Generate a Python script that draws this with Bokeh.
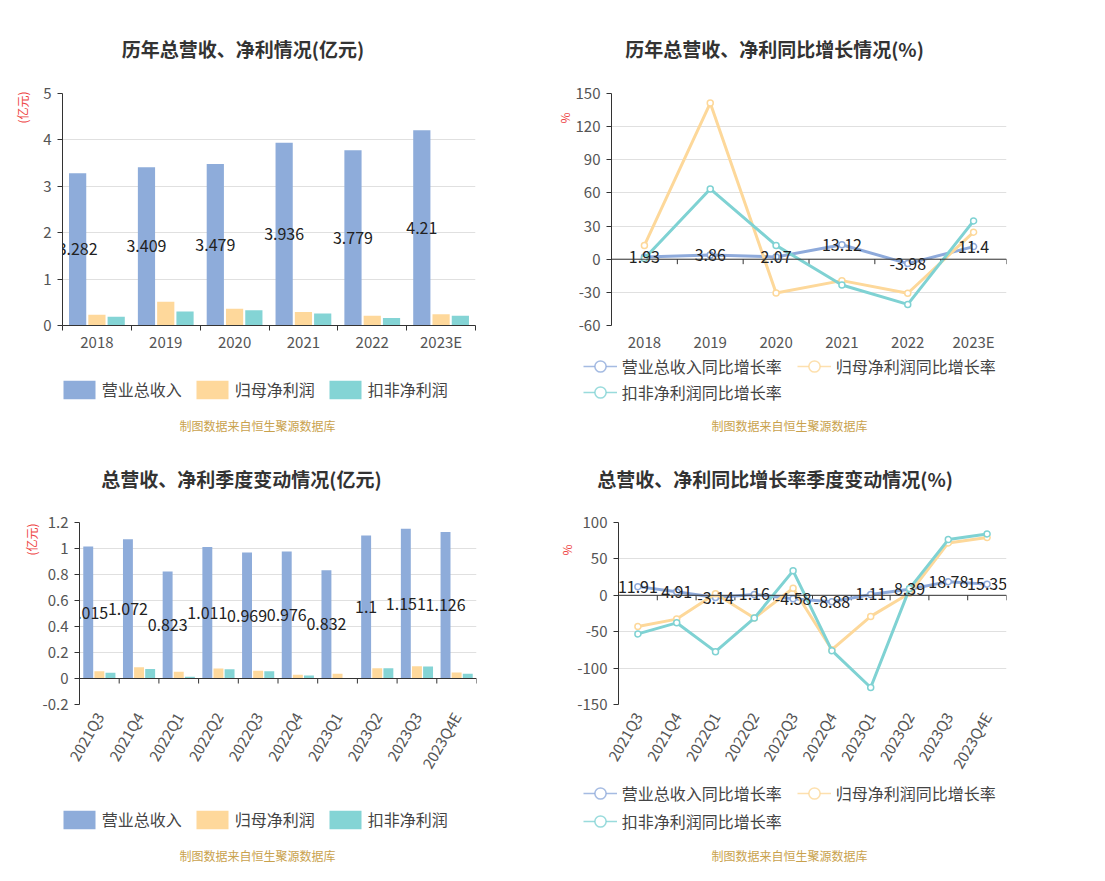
import numpy as np
from bokeh.plotting import figure
from bokeh.models import (Range1d, FixedTicker, Legend, LegendItem, Span, Title, Label,
                          NumeralTickFormatter)
from bokeh.layouts import column, row
from bokeh.embed import file_html
from bokeh.resources import INLINE
from bokeh.core.properties import value

FONT = "Noto Sans CJK SC"

# ---------------- data ----------------
years = ["2018", "2019", "2020", "2021", "2022", "2023E"]
rev_year = [3.282, 3.409, 3.479, 3.936, 3.779, 4.21]
np_year = [0.23, 0.51, 0.36, 0.29, 0.21, 0.24]
kf_year = [0.19, 0.30, 0.33, 0.26, 0.16, 0.21]

rev_year_g = [1.93, 3.86, 2.07, 13.12, -3.98, 11.4]
np_year_g = [12.5, 141.3, -30.5, -19.4, -30.8, 24.5]
kf_year_g = [0.6, 63.6, 12.5, -23.3, -40.9, 34.7]

quarters = ["2021Q3", "2021Q4", "2022Q1", "2022Q2", "2022Q3", "2022Q4",
            "2023Q1", "2023Q2", "2023Q3", "2023Q4E"]
rev_q = [1.015, 1.072, 0.823, 1.011, 0.969, 0.976, 0.832, 1.1, 1.151, 1.126]
np_q = [0.056, 0.087, 0.051, 0.077, 0.059, 0.028, 0.036, 0.079, 0.095, 0.046]
kf_q = [0.044, 0.074, 0.013, 0.072, 0.056, 0.023, 0.003, 0.079, 0.092, 0.036]

rev_q_g = [11.91, 4.91, -3.14, 1.16, -4.58, -8.88, 1.11, 8.39, 18.78, 15.35]
np_q_g = [-42.9, -32.7, 2.0, -31.3, 9.7, -74.7, -29.0, 2.8, 71.9, 79.3]
kf_q_g = [-53.0, -37.8, -77.4, -31.3, 33.6, -76.0, -126.7, 9.2, 76.5, 84.3]

bar_names = ["营业总收入", "归母净利润", "扣非净利润"]
line_names = ["营业总收入同比增长率", "归母净利润同比增长率", "扣非净利润同比增长率"]

titles = ["历年总营收、净利情况(亿元)", "历年总营收、净利同比增长情况(%)",
          "总营收、净利季度变动情况(亿元)", "总营收、净利同比增长率季度变动情况(%)"]
units = ["(亿元)", "%", "(亿元)", "%"]
source_note = "制图数据来自恒生聚源数据库"

BAR_COLORS = ["#8eacda", "#fed89b", "#84d4d5"]
LINE_COLORS = ["#8eaadb", "#fdd89a", "#7fd2d3"]
RED = "#ee4444"
NOTE = "#c9a24d"
W = 552
NAN = [float("nan")]   # legend-only proxy renderers draw nothing


def blank_fig(h):
    p = figure(width=W, height=h, x_range=Range1d(0, 1), y_range=Range1d(0, 1),
               output_backend="svg", toolbar_location=None, tools="",
               x_axis_location=None, y_axis_location=None,
               min_border_left=0, min_border_right=0, min_border_top=0,
               min_border_bottom=0)
    p.outline_line_color = None
    p.grid.visible = False
    return p


def header(h, text, x, y):
    p = blank_fig(h)
    p.add_layout(Label(x=x, y=y, x_units="screen", y_units="screen", text=text,
                       text_font=FONT, text_font_size="19px", text_font_style="bold",
                       text_color="#333333", text_align="center",
                       text_baseline="middle"))
    return p


def add_legend(p, items, loc, gw, gh, standoff, spacing):
    p.add_layout(Legend(items=items, location=loc, orientation="horizontal",
                        glyph_width=gw, glyph_height=gh, label_height=gh,
                        label_standoff=standoff, spacing=spacing, padding=0, margin=0,
                        border_line_color=None, background_fill_alpha=0,
                        label_text_font=FONT, label_text_font_size="16px",
                        label_text_color="#444444"), "center")


def add_note(p, x, y):
    p.add_layout(Label(x=x, y=y, x_units="screen", y_units="screen", text=source_note,
                       text_font=FONT, text_font_size="12px", text_color=NOTE,
                       text_align="center", text_baseline="middle"))


def bar_footer(h, loc, note_xy):
    p = blank_fig(h)
    items = []
    for nm, col in zip(bar_names, BAR_COLORS):
        r = p.vbar(x=NAN, top=NAN, width=0.5, fill_color=col, line_color=None)
        items.append(LegendItem(label=nm, renderers=[r]))
    add_legend(p, items, loc, 40, 23, 3, 10)
    add_note(p, *note_xy)
    return p


def line_footer(h, locs, note_xy):
    p = blank_fig(h)
    items = []
    for nm, col in zip(line_names, LINE_COLORS):
        lr = p.line(x=NAN, y=NAN, line_color=col, line_width=1.5, line_alpha=0.8)
        sr = p.scatter(x=NAN, y=NAN, marker="circle", fill_color="white",
                       line_color=col, line_width=1.5, line_alpha=0.8)
        items.append(LegendItem(label=nm, renderers=[lr, sr]))
    add_legend(p, items[:2], locs[0], 34, 28, 5, 15)
    add_legend(p, items[2:], locs[1], 34, 28, 5, 15)
    add_note(p, *note_xy)
    return p


def chart(n, cats, y0, y1, yticks, yfmt, h, bl, br, bt, bb, unit, unit_offset,
          unit_standoff, rotate=False, zero_axis=False):
    p = figure(width=W, height=h, x_range=Range1d(0, n), y_range=Range1d(y0, y1),
               output_backend="svg", toolbar_location=None, tools="",
               min_border_left=bl, min_border_right=br,
               min_border_top=bt, min_border_bottom=bb)
    p.outline_line_color = None
    p.xgrid.visible = False
    yt = FixedTicker(ticks=yticks)
    p.yaxis.ticker = yt
    p.ygrid.ticker = yt
    p.ygrid.grid_line_color = "#e0e0e0"
    p.yaxis.formatter = NumeralTickFormatter(format=yfmt)
    for ax in (p.yaxis, p.xaxis):
        ax.major_label_text_font = FONT
        ax.major_label_text_font_size = "15px"
        ax.major_label_text_color = "#555555"
    p.yaxis.axis_line_color = "#333333"
    p.yaxis.major_tick_line_color = "#333333"
    p.yaxis.major_tick_out = 5
    p.yaxis.major_tick_in = 0
    p.yaxis.minor_tick_line_color = None
    p.yaxis.minor_tick_out = 0
    p.yaxis.major_label_standoff = 6

    centers = np.arange(n) + 0.5
    p.xaxis.ticker = FixedTicker(ticks=list(centers), minor_ticks=list(range(n + 1)))
    p.xaxis.major_label_overrides = {float(c): s for c, s in zip(centers, cats)}
    p.xaxis.major_tick_line_color = None
    p.xaxis.major_tick_out = 0
    p.xaxis.major_tick_in = 0
    if zero_axis:
        p.xaxis.axis_line_color = None
        p.xaxis.minor_tick_line_color = None
        p.xaxis.minor_tick_out = 0
        p.xaxis.minor_tick_in = 0
        p.add_layout(Span(location=0, dimension="width", line_color="#333333",
                          line_width=1))
        tl = (y1 - y0) / (h - bt - bb) * 5
        bounds = np.arange(n + 1)
        p.segment(x0=bounds, y0=np.zeros(n + 1), x1=bounds,
                  y1=np.full(n + 1, -tl), line_color="#333333", line_width=1)
        p.xaxis.major_label_standoff = 9 if rotate else 5
    else:
        p.xaxis.axis_line_color = "#333333"
        p.xaxis.minor_tick_line_color = "#333333"
        p.xaxis.minor_tick_out = 5
        p.xaxis.minor_tick_in = 0
        p.xaxis.major_label_standoff = 0
    if rotate:
        p.xaxis.major_label_orientation = np.pi / 3

    p.add_layout(Title(text=unit, align="left", offset=unit_offset,
                       standoff=unit_standoff, text_font=FONT,
                       text_font_size="12px", text_font_style="normal",
                       text_color=RED), "left")
    return p


def draw_bars(p, series):
    n = len(series[0])
    centers = np.arange(n) + 0.5
    offsets = [-0.28, 0.0, 0.28]
    for vals, off, col in zip(series, offsets, BAR_COLORS):
        p.vbar(x=centers + off, top=vals, bottom=0, width=0.25,
               fill_color=col, line_color=None)
    vals = np.array(series[0])
    p.text(x=centers + offsets[0], y=vals / 2, text=[str(v) for v in series[0]],
           text_align="center", text_baseline="middle", text_font=value(FONT),
           text_font_size="16px", text_color="#222222")


def draw_lines(p, series):
    n = len(series[0])
    centers = np.arange(n) + 0.5
    for vals, col in zip(series, LINE_COLORS):
        p.line(x=centers, y=vals, line_color=col, line_width=3)
        p.scatter(x=centers, y=vals, marker="circle", size=6, fill_color="white",
                  line_color=col, line_width=1.5)
    p.text(x=centers, y=series[0], text=[str(v) for v in series[0]],
           text_align="center", text_baseline="middle", text_font=value(FONT),
           text_font_size="16px", text_color="#222222")


def panel(head, body, foot):
    # wrapping header/footer keeps their frames independent of the chart's borders
    return column(row(column(head)), body, row(column(foot)))


# ---------- panel 1: annual values ----------
h1 = header(70, titles[0], 242.5, 22)
c1 = chart(len(years), years, 0, 5, [0, 1, 2, 3, 4, 5], "0", 284, 62, 77, 23, 27,
           units[0], 202, 20)
draw_bars(c1, [rev_year, np_year, kf_year])
f1 = bar_footer(80, (58.7, 33), (257, 9))

# ---------- panel 2: annual growth ----------
h2 = header(70, titles[1], 222, 22)
c2 = chart(len(years), years, -60, 150, list(range(-60, 151, 30)), "0", 284, 59, 98,
           23, 27, units[1], 202, 0, zero_axis=True)
draw_lines(c2, [rev_year_g, np_year_g, kf_year_g])
f2 = line_footer(80, [(30.7, 54), (30.7, 28)], (237, 9))

# ---------- panel 3: quarterly values ----------
h3 = header(70, titles[2], 241, 26)
c3 = chart(len(quarters), quarters, -0.2, 1.2,
           [-0.2, 0.0, 0.2, 0.4, 0.6, 0.8, 1.0, 1.2], "0.[0]", 276, 79, 76, 18, 76,
           units[2], 149, 0, rotate=True, zero_axis=True)
draw_bars(c3, [rev_q, np_q, kf_q])
f3 = bar_footer(100, (58.7, 49), (257, 25))

# ---------- panel 4: quarterly growth ----------
h4 = header(70, titles[3], 222.7, 26)
c4 = chart(len(quarters), quarters, -150, 100, list(range(-150, 101, 50)), "0", 276,
           66, 98, 18, 76, units[3], 149, 0, rotate=True, zero_axis=True)
draw_lines(c4, [rev_q_g, np_q_g, kf_q_g])
f4 = line_footer(100, [(30.7, 73), (30.7, 45)], (237, 25))

layout = column(row(panel(h1, c1, f1), panel(h2, c2, f2)),
                row(panel(h3, c3, f3), panel(h4, c4, f4)))
open("out.html", "w").write(file_html(layout, INLINE))
